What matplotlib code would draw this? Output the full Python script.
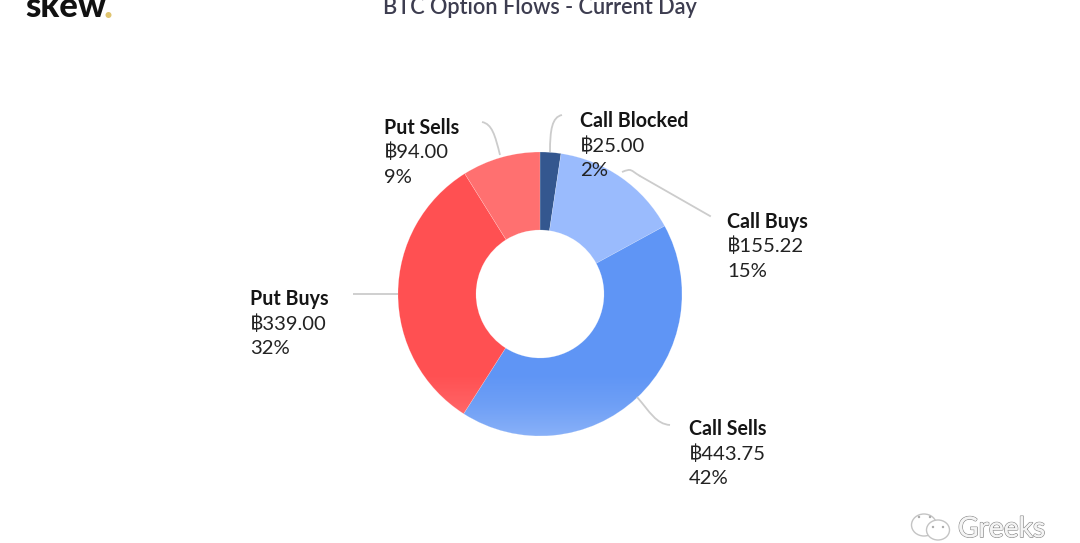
import matplotlib
matplotlib.use("Agg")
import matplotlib.pyplot as plt
import numpy as np
from matplotlib.path import Path
from matplotlib.patches import PathPatch, Circle, Ellipse, Wedge
from matplotlib.colors import LinearSegmentedColormap
import matplotlib.patheffects as pe

plt.rcParams['font.family'] = ['Lato', 'DejaVu Sans']

categories = ["Call Blocked", "Call Buys", "Call Sells", "Put Buys", "Put Sells"]
values = [25.00, 155.22, 443.75, 339.00, 94.00]
value_labels = ["฿25.00", "฿155.22", "฿443.75", "฿339.00", "฿94.00"]
percent_labels = ["2%", "15%", "42%", "32%", "9%"]
colors = ["#34578F", "#9ABBFD", "#5F95F5", "#FF5052", "#FF7070"]
title = "BTC Option Flows - Current Day"

W, H = 1080, 543
fig = plt.figure(figsize=(W / 100, H / 100), dpi=100, facecolor="white")
ax = fig.add_axes([0, 0, 1, 1])

CX, CY, R, RIN = 540, H - 294, 142, 64
wedges, _ = ax.pie(values, center=(CX, CY), radius=R, startangle=90, counterclock=False,
                   colors=colors, frame=False,
                   wedgeprops=dict(width=R - RIN, linewidth=0.3, edgecolor="#ffffff60"))
ax.set_xlim(0, W)
ax.set_ylim(0, H)
ax.set_aspect("auto")
ax.axis("off")

# soft lighter band on the lower rim of the ring
cmap = LinearSegmentedColormap.from_list("rim", [(1, 1, 1, 0.26), (1, 1, 1, 0.10), (1, 1, 1, 0.0)])
grad = np.linspace(0, 1, 128).reshape(-1, 1)
for w in wedges:
    im = ax.imshow(grad, extent=(CX - R, CX + R, CY - R, CY - R + 62), origin="lower",
                   cmap=cmap, vmin=0, vmax=1, aspect="auto", zorder=3)
    im.set_clip_path(Wedge((CX, CY), R, w.theta1, w.theta2, width=R - RIN, transform=ax.transData))
ax.set_xlim(0, W)
ax.set_ylim(0, H)

# connector curves, given in pixel positions of the reference
def curve(p0, c1, c2, p1):
    verts = [(x, H - y) for x, y in (p0, c1, c2, p1)]
    ax.add_patch(PathPatch(Path(verts, [Path.MOVETO, Path.CURVE4, Path.CURVE4, Path.CURVE4]),
                           fc="none", ec="#CCCCCC", lw=1.3, zorder=4))

curve((550, 152), (550, 130), (552, 117), (562, 115))
curve((622, 172), (632, 168), (630, 170), (640, 176))
ax.plot([640, 710], [H - 176, H - 216], color="#CCCCCC", lw=1.3, zorder=4)
curve((637, 397), (650, 412), (656, 424), (670, 425))
curve((353, 294), (365, 294), (375, 294), (398, 294))
curve((500, 155), (495, 135), (492, 124), (482, 122))

# label positions: left edge and first baseline in reference pixels
label_pos = [(580, 127), (727, 228), (689, 435), (250, 305), (384, 134)]
for name, val, pct, (x, y) in zip(categories, value_labels, percent_labels, label_pos):
    ax.text(x, H - y, name, fontsize=14.1, fontweight="bold", color="#151515",
            ha="left", va="baseline", zorder=6)
    ax.text(x, H - (y + 24.5), val, fontsize=14.6, color="#222222", ha="left", va="baseline", zorder=6)
    ax.text(x, H - (y + 49), pct, fontsize=14.6, color="#222222", ha="left", va="baseline", zorder=6)

ax.text(539.5, H - 14, title, fontsize=15.7, fontweight="semibold", color="#3D3D50",
        ha="center", va="baseline")

# logo
ax.text(25, H - 17, "skew", fontsize=25, fontweight="black", color="#111111", ha="left", va="baseline")
ax.add_patch(Circle((108.5, H - 15), 3, color="#E0C46F", lw=0))

# watermark
icon = dict(fc="white", ec="#C4C4C4", lw=1.0)
ax.add_patch(Ellipse((924, H - 525), 25, 22, **icon))
ax.add_patch(Ellipse((938, H - 530), 23, 20, **icon))
for x, y in [(919, 517), (930, 517), (933, 527), (943, 527)]:
    ax.add_patch(Circle((x, H - y), 1.2, color="#AAAAAA", lw=0))
t = ax.text(958, H - 537, "Greeks", fontsize=20.3, color="#F4F4F4", ha="left", va="baseline")
t.set_path_effects([pe.withStroke(linewidth=1.1, foreground="#8E8E8E"), pe.Normal()])

fig.savefig("out.png", dpi=100, facecolor="white")
